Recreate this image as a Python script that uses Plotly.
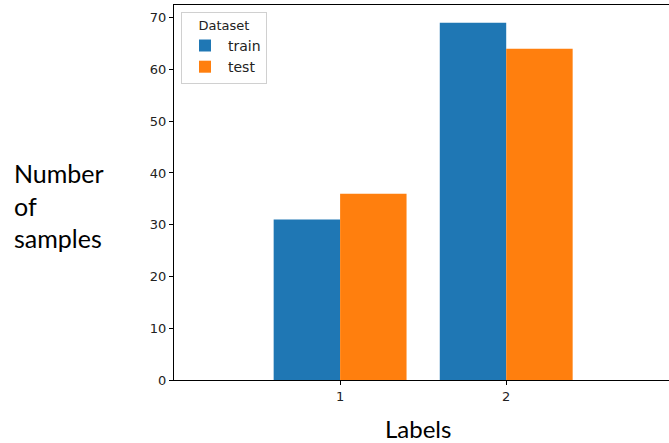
import plotly.graph_objects as go

labels = [1, 2]
train_counts = [31, 69]
test_counts = [36, 64]
y_ticks = [0, 10, 20, 30, 40, 50, 60, 70]

W, H = 669, 443
L, R, T, B = 174, 0, 5, 63
pw, ph = W - L - R, H - T - B

fig = go.Figure()
fig.add_trace(go.Bar(x=labels, y=train_counts, name="train",
                     marker=dict(color="#1f77b4", line=dict(width=0))))
fig.add_trace(go.Bar(x=labels, y=test_counts, name="test",
                     marker=dict(color="#ff7f0e", line=dict(width=0))))

tick_font = dict(family="DejaVu Sans", size=13, color="#222")
fig.update_layout(
    width=W, height=H,
    margin=dict(l=L, r=R, t=T, b=B),
    paper_bgcolor="white", plot_bgcolor="white",
    barmode="group", bargap=0.2, bargroupgap=0,
    showlegend=True,
    legend=dict(
        title=dict(text="Dataset", side="top center",
                   font=dict(family="DejaVu Sans", size=13, color="#222")),
        font=dict(family="DejaVu Sans", size=14, color="#222"),
        x=(181 - L) / pw, y=(H - B - 12) / ph,
        xanchor="left", yanchor="top",
        bgcolor="rgba(255,255,255,0.8)", bordercolor="#d0d0d0", borderwidth=1,
        itemwidth=36, tracegroupgap=2,
    ),
    xaxis=dict(
        range=[0, 2.98], tickvals=labels, ticktext=[str(v) for v in labels],
        showgrid=False, zeroline=False,
        showline=True, linecolor="black", linewidth=1, mirror=True,
        ticks="outside", ticklen=4, tickcolor="black", tickfont=tick_font,
    ),
    yaxis=dict(
        range=[0, 72.45], tickvals=y_ticks,
        showgrid=False, zeroline=False,
        showline=True, linecolor="black", linewidth=1, mirror=False,
        ticks="outside", ticklen=4, tickcolor="black", tickfont=tick_font,
    ),
    annotations=[
        dict(text="Number<br>of<br>samples", xref="paper", yref="paper",
             x=(12 - L) / pw, y=(H - B - 205) / ph,
             xanchor="left", yanchor="middle", align="left", showarrow=False,
             font=dict(family="Lato", size=25, color="black")),
        dict(text="Labels", xref="paper", yref="paper",
             x=(418 - L) / pw, y=(H - B - 428) / ph,
             xanchor="center", yanchor="middle", showarrow=False,
             font=dict(family="Lato", size=24, color="black")),
    ],
)

fig.write_html("out.html")
